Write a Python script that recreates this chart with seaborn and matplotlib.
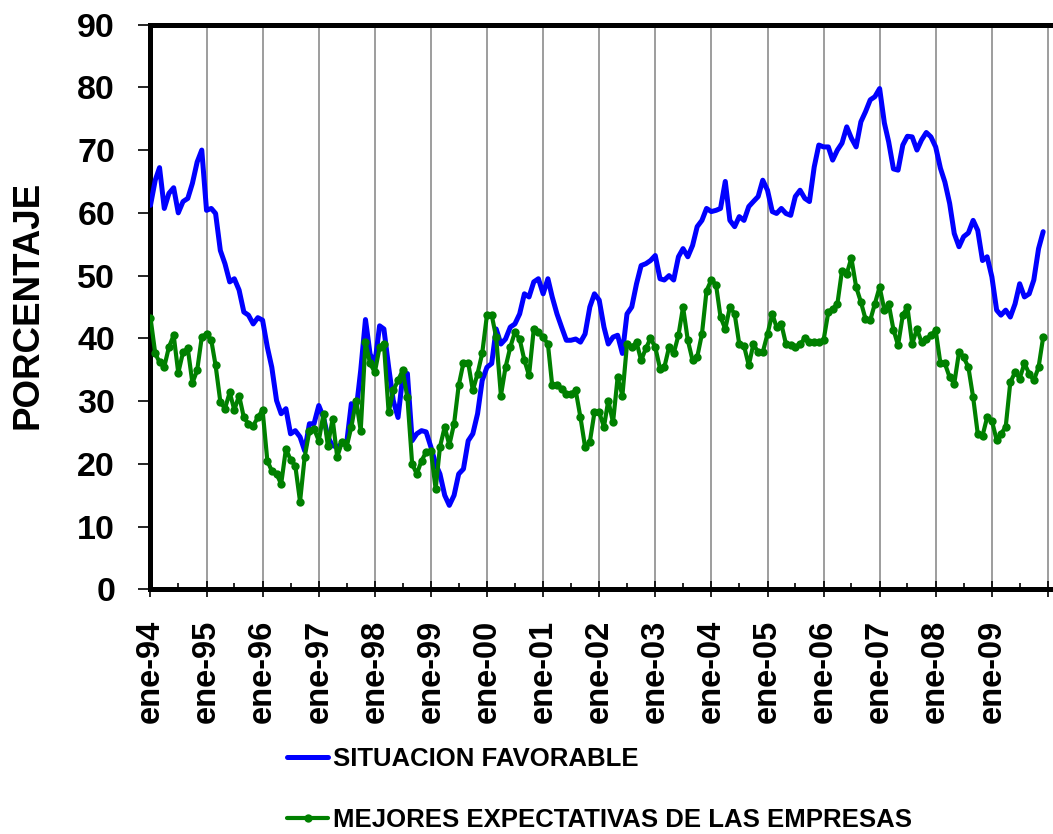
import numpy as np
import pandas as pd
import matplotlib
matplotlib.use("Agg")
import matplotlib.pyplot as plt
import matplotlib.dates as mdates
from matplotlib.ticker import FuncFormatter, MultipleLocator
import seaborn as sns

# monthly series, ene-94 .. dic-09
START = "1994-01-01"
N_MONTHS = 192

situacion_favorable = [
    61.2, 65.2, 67.2, 60.7, 63.1, 64.0, 60.0, 61.8, 62.3, 64.7, 68.1, 70.0,
    60.4, 60.7, 59.9, 54.0, 51.9, 49.0, 49.5, 47.7, 44.2, 43.7, 42.3, 43.3,
    42.9, 38.6, 35.4, 30.1, 28.0, 28.8, 24.8, 25.3, 24.3, 22.1, 26.4, 26.4,
    29.3, 27.4, 24.3, 22.9, 22.7, 23.2, 23.2, 29.6, 28.5, 34.9, 43.0, 37.5,
    36.0, 42.0, 41.5, 35.4, 30.1, 27.4, 33.8, 34.4, 23.7, 24.8, 25.3, 25.1,
    22.7, 20.0, 18.4, 15.0, 13.4, 15.0, 18.4, 19.2, 23.7, 24.8, 28.0, 33.3,
    35.4, 36.0, 41.5, 39.1, 39.9, 41.8, 42.3, 43.9, 47.1, 46.6, 49.0, 49.5,
    47.1, 49.5, 46.6, 43.9, 41.8, 39.7, 39.7, 39.9, 39.4, 40.7, 45.0, 47.1,
    46.1, 41.8, 39.1, 40.2, 40.5, 37.6, 43.9, 45.0, 48.7, 51.6, 51.9, 52.4,
    53.2, 49.5, 49.3, 50.0, 49.3, 53.0, 54.3, 53.0, 54.8, 57.8, 58.8, 60.7,
    60.2, 60.4, 60.7, 65.0, 58.8, 57.8, 59.4, 58.8, 61.0, 61.8, 62.6, 65.2,
    63.6, 60.2, 59.9, 60.7, 59.9, 59.6, 62.6, 63.6, 62.3, 61.8, 67.3, 70.8,
    70.5, 70.5, 68.4, 70.0, 71.1, 73.7, 71.9, 70.5, 74.5, 76.1, 78.0, 78.5,
    79.8, 74.3, 71.3, 67.0, 66.8, 70.8, 72.2, 72.1, 70.0, 71.6, 72.8, 72.1,
    70.5, 67.1, 64.9, 61.5, 56.7, 54.6, 56.2, 56.8, 58.8, 57.2, 52.4, 53.0,
    49.8, 44.5, 43.7, 44.5, 43.4, 45.5, 48.7, 46.6, 47.1, 49.3, 54.3, 57.0,
]

mejores_expectativas = [
    43.3, 37.6, 36.2, 35.5, 38.6, 40.5, 34.5, 37.8, 38.4, 32.9, 34.9, 40.2,
    40.7, 39.7, 35.7, 29.9, 28.8, 31.4, 28.6, 30.9, 27.4, 26.4, 26.1, 27.4,
    28.6, 20.5, 18.9, 18.4, 16.8, 22.4, 20.7, 19.7, 14.0, 21.1, 25.3, 25.6,
    23.7, 28.0, 22.9, 27.2, 21.1, 23.5, 22.7, 25.9, 30.1, 25.3, 39.4, 36.0,
    34.6, 38.6, 39.1, 28.2, 31.7, 33.3, 34.9, 30.6, 20.0, 18.4, 20.5, 21.9,
    22.1, 16.0, 22.7, 25.9, 23.0, 26.4, 32.5, 36.1, 36.1, 31.7, 34.4, 37.6,
    43.7, 43.7, 40.2, 30.9, 35.4, 38.6, 41.0, 39.9, 36.5, 34.1, 41.5, 41.0,
    40.2, 39.1, 32.5, 32.5, 32.0, 31.2, 31.2, 31.7, 27.4, 22.7, 23.5, 28.2,
    28.2, 25.9, 30.1, 26.6, 33.8, 30.9, 39.1, 38.6, 39.4, 36.5, 38.4, 40.0,
    38.6, 35.2, 35.4, 38.6, 37.6, 40.5, 45.0, 39.7, 36.5, 37.0, 40.7, 47.6,
    49.3, 48.5, 43.4, 41.5, 45.0, 43.9, 39.1, 38.8, 35.7, 39.1, 37.8, 37.8,
    40.7, 43.9, 41.8, 42.3, 39.1, 38.9, 38.6, 39.1, 40.0, 39.4, 39.4, 39.4,
    39.7, 44.2, 44.7, 45.5, 50.8, 50.3, 52.8, 48.2, 45.8, 43.1, 42.9, 45.5,
    48.2, 44.5, 45.5, 41.4, 38.9, 43.7, 45.0, 39.1, 41.5, 39.4, 39.9, 40.5,
    41.3, 36.0, 36.0, 33.8, 32.8, 37.8, 37.0, 35.4, 30.6, 24.8, 24.5, 27.4,
    26.9, 23.8, 24.8, 25.9, 33.0, 34.6, 33.6, 36.0, 34.4, 33.3, 35.4, 40.2,
]

labels = ["SITUACION FAVORABLE", "MEJORES EXPECTATIVAS DE LAS EMPRESAS"]

fechas = pd.date_range(START, periods=N_MONTHS, freq="MS")
df = pd.DataFrame({
    "fecha": fechas,
    "favorable": situacion_favorable,
    "expectativas": mejores_expectativas,
})

sns.set_theme(style="white")
plt.rcParams["font.family"] = ["Liberation Sans", "DejaVu Sans"]
plt.rcParams["font.weight"] = "bold"
plt.rcParams["text.color"] = "black"
plt.rcParams["axes.labelcolor"] = "black"
plt.rcParams["xtick.color"] = "black"
plt.rcParams["ytick.color"] = "black"

fig = plt.figure(figsize=(10.53, 8.34), dpi=100)
ax = fig.add_axes([0.1429, 0.2932, 1 - 0.1429, 0.9706 - 0.2932])

sns.lineplot(data=df, x="fecha", y="favorable", ax=ax, color="#0000ff",
             linewidth=3.6, label=labels[0], zorder=3)
sns.lineplot(data=df, x="fecha", y="expectativas", ax=ax, color="#008000",
             linewidth=3.0, marker="o", markersize=6, markeredgewidth=0,
             label=labels[1], zorder=4)

ax.set_ylim(0, 90)
ax.yaxis.set_major_locator(MultipleLocator(10))
ax.set_xlim(pd.Timestamp("1994-01-01"), pd.Timestamp("2010-01-01") + pd.Timedelta(days=33))

ax.xaxis.set_major_locator(mdates.YearLocator(1))
ax.xaxis.set_minor_locator(mdates.MonthLocator(bymonth=7))


def fmt_fecha(x, pos):
    d = mdates.num2date(x)
    if d.year >= 2010:
        return ""
    return f"ene-{d.year % 100:02d}"


ax.xaxis.set_major_formatter(FuncFormatter(fmt_fecha))

ax.grid(axis="x", which="major", color="#8c8c8c", linewidth=1.2)
ax.grid(axis="y", visible=False)
ax.set_axisbelow(True)

for s in ["left", "bottom", "top"]:
    ax.spines[s].set_color("black")
    ax.spines[s].set_linewidth(3.6)
ax.spines["right"].set_visible(False)

ax.tick_params(axis="y", which="major", direction="out", length=9, width=1.2,
               color="black", labelcolor="black", pad=16.5, labelsize=24.5, left=True)
ax.tick_params(axis="x", which="major", direction="inout", length=11.5, width=1.2,
               color="black", labelcolor="black", pad=16, labelsize=23.5,
               bottom=True, labelrotation=90)
ax.tick_params(axis="x", which="minor", direction="in", length=4, width=1.2,
               color="black", bottom=True)
for t in ax.get_yticklabels() + ax.get_xticklabels():
    t.set_fontweight("bold")

ax.set_xlabel("")
ax.set_ylabel("PORCENTAJE", fontsize=26.5, fontweight="bold", color="black")
ax.yaxis.label.set_va("center")
ax.yaxis.set_label_coords(-0.1357, 0.5035)

handles, _ = ax.get_legend_handles_labels()
ax.get_legend().remove()
leg = fig.legend(handles, labels, loc="upper left",
                 bbox_to_anchor=(287 / 1053, 1 - 747 / 834),
                 frameon=False, borderpad=0, borderaxespad=0,
                 handlelength=1.6, handletextpad=0.2, labelspacing=1.45,
                 numpoints=1, prop={"size": 18.5, "weight": "bold"})
for t in leg.get_texts():
    t.set_color("black")

fig.savefig("out.png", dpi=100)
